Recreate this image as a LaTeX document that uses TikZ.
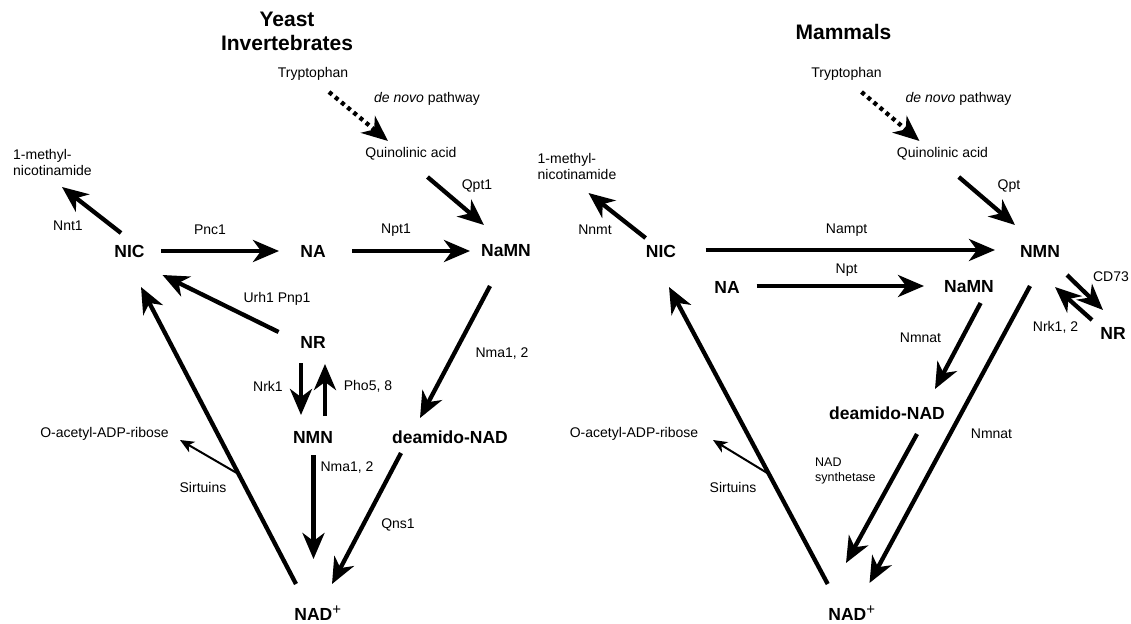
\documentclass[tikz,border=0pt]{standalone}
\usepackage{fontspec}
\setmainfont{Liberation Sans}
\usetikzlibrary{arrows.meta}
\tikzset{
    lbl/.style={font=\fontsize{14}{16}\selectfont, inner sep=1pt},
    small/.style={font=\fontsize{12.5}{15}\selectfont, align=left, inner sep=0pt},
    cpd/.style={font=\bfseries\fontsize{17.5}{20}\selectfont, inner sep=1pt},
    ttl/.style={font=\bfseries\fontsize{21}{24}\selectfont, align=center},
    rxn/.style={line width=4.3pt, -{Stealth[length=26pt, width=22pt, inset=8pt]}},
    dotrxn/.style={rxn, dash pattern=on 4pt off 4pt},
    thinrxn/.style={line width=2pt, -{Stealth[length=14pt, width=12pt, inset=4pt]}}
}
\newcommand{\nadplus}{NAD\textsuperscript{\mdseries\fontsize{15}{15}\selectfont +}}
\begin{document}
\begin{tikzpicture}[x=1pt, y=-1pt]
                            \useasboundingbox (0, 0) rectangle (1131, 623);
                            \node[ttl] (titleL) at (287, 31) {Yeast\\Invertebrates};
                            \node[lbl] (trpL) at (313, 74) {Tryptophan};
                            \node[lbl] (denovoL) at (427, 99) {\textit{de novo} pathway};
                            \node[lbl] (quinL) at (411, 154) {Quinolinic acid};
                            \node[lbl, align=left, anchor=west] (methylL) at (12, 162.5) {1-methyl-\\nicotinamide};
                            \node[cpd] (nicL) at (129.5, 251) {NIC};
                            \node[cpd] (naL) at (313, 251) {NA};
                            \node[cpd] (namnL) at (506, 251) {NaMN};
                            \node[cpd] (nrL) at (313, 342) {NR};
                            \node[cpd] (nmnL) at (313, 437) {NMN};
                            \node[cpd] (deamL) at (450, 437) {deamido-NAD};
                            \node[cpd] (nadL) at (318, 613) {\nadplus};
                            \node[lbl] (oacetL) at (104.5, 434) {O-acetyl-ADP-ribose};
                            \draw[dotrxn] ([shift={(16, 18)}]trpL.center) -- ([shift={(-23, -13)}]quinL.center);
                            \draw[rxn] ([shift={(16.5, 23)}]quinL.center) -- ([shift={(-22, -26)}]namnL.center);
                            \draw[rxn] ([shift={(-8.5, -18)}]nicL.center) -- ([shift={(9.5, 24.5)}]methylL.center);
                            \draw[rxn] ([shift={(31.5, 0)}]nicL.center) -- ([shift={(-34, 0)}]naL.center);
                            \draw[rxn] ([shift={(39, 0)}]naL.center) -- ([shift={(-36, 0)}]namnL.center);
                            \draw[rxn] ([shift={(-34.4, -10)}]nrL.center) -- ([shift={(33, 24)}]nicL.center);
                            \draw[rxn] ([shift={(-12, 21)}]nrL.center) -- ([shift={(-12, -22)}]nmnL.center);
                            \draw[rxn] ([shift={(12, -21)}]nmnL.center) -- ([shift={(12, 22)}]nrL.center);
                            \draw[rxn] ([shift={(-16, 35)}]namnL.center) -- ([shift={(-30, -19)}]deamL.center);
                            \draw[rxn] ([shift={(0.5, 18)}]nmnL.center) -- ([shift={(-4.5, -54)}]nadL.center);
                            \draw[rxn] ([shift={(-49, 16)}]deamL.center) -- ([shift={(14, -29)}]nadL.center);
                            \draw[rxn] ([shift={(-22, -29)}]nadL.center) -- coordinate[pos=0.37] (sirtL) ([shift={(11.5, 36)}]nicL.center);
                            \draw[thinrxn] (sirtL) -- ([shift={(75.5, 6)}]oacetL.center);
                            \node[lbl] at (477, 186) {Qpt1};
                            \node[lbl] at (68, 226) {Nnt1};
                            \node[lbl] at (210, 230) {Pnc1};
                            \node[lbl] at (396, 230) {Npt1};
                            \node[lbl] at (277, 299) {Urh1 Pnp1};
                            \node[lbl] at (502, 354) {Nma1, 2};
                            \node[lbl] at (268, 386) {Nrk1};
                            \node[lbl] at (368, 386) {Pho5, 8};
                            \node[lbl] at (347, 468) {Nma1, 2};
                            \node[lbl] at (398, 525) {Qns1};
                            \node[lbl] at (203, 487) {Sirtuins};
                            \node[ttl] (titleR) at (843.5, 32) {Mammals};
                            \node[lbl] (trpR) at (846.5, 74) {Tryptophan};
                            \node[lbl] (denovoR) at (958.5, 99) {\textit{de novo} pathway};
                            \node[lbl] (quinR) at (942.5, 154) {Quinolinic acid};
                            \node[lbl, align=left, anchor=west] (methylR) at (536.5, 166.5) {1-methyl-\\nicotinamide};
                            \node[cpd] (nicR) at (661, 251) {NIC};
                            \node[cpd] (nmnR) at (1040, 251) {NMN};
                            \node[cpd] (naR) at (727, 287) {NA};
                            \node[cpd] (namnR) at (969, 287) {NaMN};
                            \node[cpd] (nrR) at (1113, 333) {NR};
                            \node[cpd] (deamR) at (887, 413) {deamido-NAD};
                            \node[cpd] (nadR) at (852, 613) {\nadplus};
                            \node[lbl] (oacetR) at (634, 434) {O-acetyl-ADP-ribose};
                            \draw[dotrxn] ([shift={(15, 18)}]trpR.center) -- ([shift={(-23, -13)}]quinR.center);
                            \draw[rxn] ([shift={(16.3, 23)}]quinR.center) -- ([shift={(-25, -26)}]nmnR.center);
                            \draw[rxn] ([shift={(-15.4, -13)}]nicR.center) -- ([shift={(11.5, 26.5)}]methylR.center);
                            \draw[rxn] ([shift={(44.7, -1)}]nicR.center) -- ([shift={(-45, -1)}]nmnR.center);
                            \draw[rxn] ([shift={(29.7, -1)}]naR.center) -- ([shift={(-45, -1)}]namnR.center);
                            \draw[rxn] ([shift={(11.6, 16)}]namnR.center) -- ([shift={(48, -24)}]deamR.center);
                            \draw[rxn] ([shift={(-10, 35)}]nmnR.center) -- ([shift={(17.5, -30)}]nadR.center);
                            \draw[rxn] ([shift={(30, 21)}]deamR.center) -- ([shift={(-6, -50)}]nadR.center);
                            \draw[rxn] ([shift={(-24.3, -29)}]nadR.center) -- coordinate[pos=0.37] (sirtR) ([shift={(8, 36)}]nicR.center);
                            \draw[thinrxn] (sirtR) -- ([shift={(79, 6)}]oacetR.center);
                            \draw[rxn] ([shift={(27, 24)}]nmnR.center) -- ([shift={(-10, -23)}]nrR.center);
                            \draw[rxn] ([shift={(-21, -13)}]nrR.center) -- ([shift={(15, 36)}]nmnR.center);
                            \node[lbl] at (1009, 186) {Qpt};
                            \node[lbl] at (595, 230) {Nnmt};
                            \node[lbl] at (846.6, 230) {Nampt};
                            \node[lbl] at (846.6, 270) {Npt};
                            \node[lbl] at (920.5, 338) {Nmnat};
                            \node[small, anchor=west] at (815, 470.5) {NAD\\synthetase};
                            \node[lbl] at (991.5, 434) {Nmnat};
                            \node[lbl] at (733, 487) {Sirtuins};
                            \node[lbl] at (1111, 277) {CD73};
                            \node[lbl] at (1055.5, 327) {Nrk1, 2};
                        \end{tikzpicture}
\end{document}
